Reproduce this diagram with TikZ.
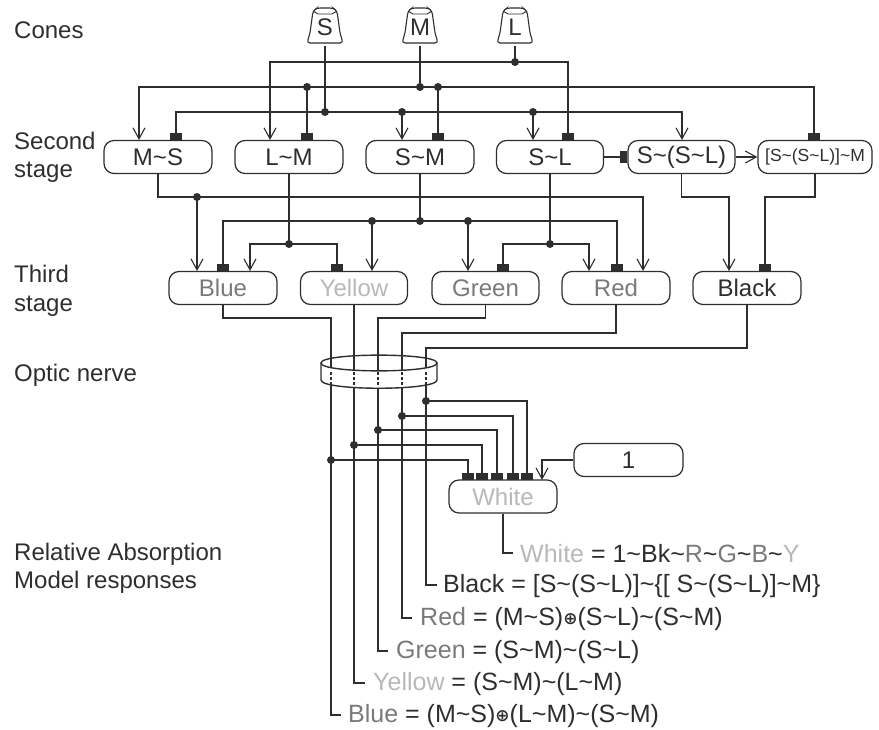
\documentclass[tikz,border=0pt]{standalone}
\usepackage{fontspec}
\setmainfont{Liberation Sans}
\newfontfamily\oplfont{DejaVu Sans}
\usetikzlibrary{arrows.meta}
\definecolor{inkc}{gray}{0.18}
\definecolor{paleg}{gray}{0.72}
\definecolor{midg}{gray}{0.48}
\newcommand{\tl}{\textasciitilde}
\newcommand{\opl}{\raisebox{1pt}{{\oplfont\bfseries\fontsize{17}{17}\selectfont ⊕}}}
\tikzset{
  wire/.style={draw=inkc, line width=1.2pt},
  inarrow/.style={wire, -{Straight Barb[length=11pt,width=12pt,line width=1.1pt]}},
  insquare/.style={wire, -{Rectangle[length=7pt,width=11.5pt]}},
  unitbox/.style={draw=inkc, line width=1.2pt, rounded corners=10pt, minimum height=33pt, inner sep=0pt, fill=white},
  dotnode/.style={circle, fill=inkc, inner sep=0pt, minimum size=8pt},
  stagelabel/.style={anchor=west, inner sep=0pt, text=inkc, align=left},
  formula/.style={anchor=west, inner sep=0pt, text=inkc, font=\fontsize{25}{28.5}\selectfont},
}
\begin{document}
\begin{tikzpicture}[x=1pt, y=-1pt, font=\fontsize{24}{28.5}\selectfont]
  \useasboundingbox (0,0) rectangle (879,730);

  \foreach \conename/\conex/\lab in {coneS/325/S, coneM/420/M, coneL/515/L} {
    \begin{scope}[shift={(\conex,0)}]
      \draw[inkc, line width=1.1pt, rounded corners=3pt] (-12,11) -- (-15,33) -- (-18,43) -- (18,43) -- (15,33) -- (12,11) -- (8,8) -- (-8,8) -- cycle;
      \draw[inkc, line width=0.9pt] (-12,11) -- (-7,14) -- (7,14) -- (12,11);
    \end{scope}
    \node[minimum height=37pt, inner sep=0pt, text=inkc] (\conename) at (\conex,27) {\raisebox{-2pt}{\lab}};
  }

  \foreach \boxname/\boxx/\boxy/\boxw/\lab in {
      ms/158/157/108/{M\tl S},
      lm/289/157/108/{L\tl M},
      sm/420/157/108/{S\tl M},
      sl/550/157/107/{S\tl L},
      ss/681.5/157/107/{S\tl(S\tl L)},
      im/815/157/114/{\fontsize{17.5}{20}\selectfont [S\tl(S\tl L)]\tl M},
      blue/223/288/108/{\textcolor{midg}{Blue}},
      yellow/354/288/107/{\textcolor{paleg}{Yellow}},
      green/485.5/288/107/{\textcolor{midg}{Green}},
      red/616/288/108/{\textcolor{midg}{Red}},
      black/747/288/108/{Black},
      white/503/496.5/108/{\textcolor{paleg}{White}},
      one/628.5/460/109/{1}} {
    \node[unitbox, minimum width=\boxw pt, text=inkc] (\boxname) at (\boxx,\boxy) {\raisebox{-1pt}{\lab}};
  }

  \foreach \dotname/\dotx/\doty in {
      dL/515/62, dM/420/87, dLM/307/87, dSMb/438/87, dS/325/112, dSMa/402/112, dSLa/533/112,
      dMS/197/197, dLMc/289/244, dSMc/420/221, dYel/372/221, dGrn/468/221, dSLc/550/244,
      wBk/426/401, wRd/402/416, wGn/378/430, wYw/354/445, wBu/331/460
    } {
    \node[dotnode] (\dotname) at (\dotx,\doty) {};
  }

  \foreach \tapname/\tapx/\tapy in {
      inMS/139/140, sqMS/176/140, inLM/270/140, sqLM/307/140, inSM/402/140, sqSM/438/140,
      inSL/533/140, sqSL/568/140, inSS/682/140, sqIM/814/140,
      inBuA/197/271, sqBu/223/271, inBuB/250/271, sqYw/337/271, inYw/372/271,
      inGn/468/271, sqGn/503/271, inRdB/589/271, sqRd/617/271, inRdA/643/271,
      kneeSS/729/197, inBk/729/271, kneeIM/765/197, sqBk/765/271,
      kneeBu/331/318, endBu/331/715, tipBu/341/715,
      endYw/354/683, tipYw/365/683,
      kneeGn/378/318, endGn/378/651, tipGn/388/651,
      kneeRd/402/333, endRd/402/618, tipRd/412/618,
      kneeBk/426/348, endBk/426/585, tipBk/437/585,
      endWh/503/553, tipWh/513/553,
      sqWa/468/480, sqWb/482/480, sqWc/497/480, sqWd/513/480, sqWe/527/480,
      inWh/542/480
    } {
    \coordinate (\tapname) at (\tapx,\tapy);
  }

  \draw[wire] (coneL.south) -- (dL.center);
  \draw[inarrow] (dL.center) -| (inLM);
  \draw[insquare] (dL.center) -| (sqSL);
  \draw[wire] (coneM.south) -- (dM.center);
  \draw[inarrow] (dM.center) -| (inMS);
  \draw[insquare] (dM.center) -| (sqIM);
  \draw[insquare] (dLM.center) -- (sqLM);
  \draw[insquare] (dSMb.center) -- (sqSM);
  \draw[wire] (coneS.south) -- (dS.center);
  \draw[insquare] (dS.center) -| (sqMS);
  \draw[inarrow] (dS.center) -| (inSS);
  \draw[inarrow] (dSMa.center) -- (inSM);
  \draw[inarrow] (dSLa.center) -- (inSL);
  \draw[insquare] (sl.east) -- (ss.west);
  \draw[inarrow] (ss.east) -- (im.west);

  \draw[inarrow] (ms.south) |- (dMS.center) -| (inRdA);
  \draw[inarrow] (dMS.center) -- (inBuA);
  \draw[wire] (lm.south) -- (dLMc.center);
  \draw[inarrow] (dLMc.center) -| (inBuB);
  \draw[insquare] (dLMc.center) -| (sqYw);
  \draw[wire] (sm.south) -- (dSMc.center);
  \draw[insquare] (dSMc.center) -| (sqBu);
  \draw[insquare] (dSMc.center) -| (sqRd);
  \draw[inarrow] (dYel.center) -- (inYw);
  \draw[inarrow] (dGrn.center) -- (inGn);
  \draw[wire] (sl.south) -- (dSLc.center);
  \draw[insquare] (dSLc.center) -| (sqGn);
  \draw[inarrow] (dSLc.center) -| (inRdB);
  \draw[inarrow] (ss.south) |- (kneeSS) -- (inBk);
  \draw[insquare] (im.south) |- (kneeIM) -- (sqBk);

  \draw[wire] (blue.south) |- (kneeBu) -- (endBu) -- (tipBu);
  \draw[wire] (yellow.south) -- (endYw) -- (tipYw);
  \draw[wire] (green.south) |- (kneeGn) -- (endGn) -- (tipGn);
  \draw[wire] (red.south) |- (kneeRd) -- (endRd) -- (tipRd);
  \draw[wire] (black.south) |- (kneeBk) -- (endBk) -- (tipBk);
  \draw[wire] (white.south) -- (endWh) -- (tipWh);

  \draw[insquare] (wBu.center) -| (sqWa);
  \draw[insquare] (wYw.center) -| (sqWb);
  \draw[insquare] (wGn.center) -| (sqWc);
  \draw[insquare] (wRd.center) -| (sqWd);
  \draw[insquare] (wBk.center) -| (sqWe);
  \draw[inarrow] (one.west) -| (inWh);

  \fill[white] (321,363) .. controls (321,374) and (437,374) .. (437,363) -- (437,380) .. controls (437,391) and (321,391) .. (321,380) -- cycle;
  \foreach \wirex in {331,354,378,402,426} {
    \draw[inkc, line width=1.2pt, densely dashed] (\wirex,372) -- (\wirex,387);
  }
  \draw[inkc, line width=1.4pt] (321,363) .. controls (321,352.5) and (437,352.5) .. (437,363) .. controls (437,373.5) and (321,373.5) .. cycle;
  \draw[inkc, line width=1.4pt] (321,363) -- (321,380) .. controls (321,391) and (437,391) .. (437,380) -- (437,363);

  \node[stagelabel] (lCones) at (14,30) {Cones};
  \node[stagelabel] (lSecond) at (14,157.5) {Second\\stage};
  \node[stagelabel] (lThird) at (14,291) {Third\\stage};
  \node[stagelabel] (lOptic) at (14,375) {Optic nerve};
  \node[stagelabel] (lModel) at (14,568.5) {Relative Absorption\\Model responses};

  \node[formula] (fWhite) at (520,554) {\textcolor{paleg}{White} = 1\tl Bk\tl\textcolor{midg}{R}\tl\textcolor{midg}{G}\tl\textcolor{midg}{B}\tl\textcolor{paleg}{Y}};
  \node[formula] (fBlack) at (443,586) {Black = [S\tl(S\tl L)]\tl\{[ S\tl(S\tl L)]\tl M\}};
  \node[formula] (fRed) at (420,619) {\textcolor{midg}{Red} = (M\tl S)\opl(S\tl L)\tl(S\tl M)};
  \node[formula] (fGreen) at (396,652) {\textcolor{midg}{Green} = (S\tl M)\tl(S\tl L)};
  \node[formula] (fYellow) at (373,684) {\textcolor{paleg}{Yellow} = (S\tl M)\tl(L\tl M)};
  \node[formula] (fBlue) at (348,716) {\textcolor{midg}{Blue} = (M\tl S)\opl(L\tl M)\tl(S\tl M)};
\end{tikzpicture}
\end{document}
